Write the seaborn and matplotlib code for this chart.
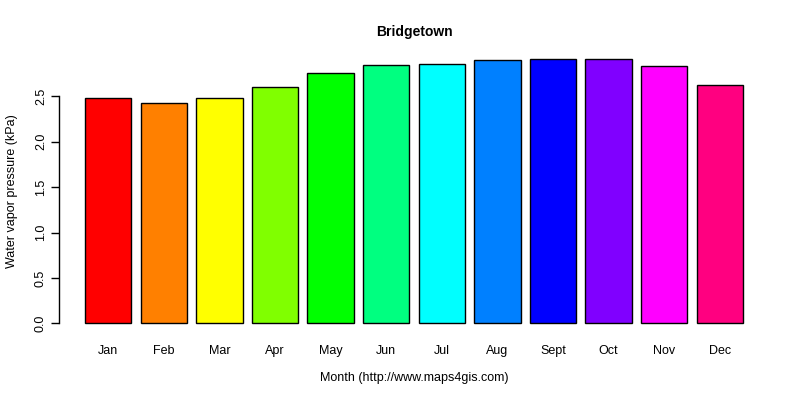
import numpy as np
import pandas as pd
import matplotlib
matplotlib.use("Agg")
import matplotlib.pyplot as plt
import seaborn as sb

months = ["Jan", "Feb", "Mar", "Apr", "May", "Jun", "Jul", "Aug", "Sept", "Oct", "Nov", "Dec"]
vapor = [2.48, 2.43, 2.48, 2.60, 2.76, 2.84, 2.85, 2.90, 2.91, 2.91, 2.83, 2.62]
colors = ["#FF0000", "#FF8000", "#FFFF00", "#80FF00", "#00FF00", "#00FF80",
          "#00FFFF", "#0080FF", "#0000FF", "#8000FF", "#FF00FF", "#FF0080"]

df = pd.DataFrame({"month": months, "vapor": vapor})

sb.set_style("white")
plt.rcParams["font.family"] = ["Liberation Sans", "DejaVu Sans"]
plt.rcParams["text.color"] = "black"
plt.rcParams["axes.labelcolor"] = "black"
plt.rcParams["xtick.color"] = "black"
plt.rcParams["ytick.color"] = "black"

fig = plt.figure(figsize=(8, 4), dpi=100)
ax = fig.add_axes([0.0734, 0.165, 0.8882, 0.714])

sb.barplot(data=df, x="month", y="vapor", hue="month", palette=colors,
           saturation=1, width=1 / 1.2, edgecolor="black", linewidth=1,
           legend=False, ax=ax)

# R style axis ranges (4% padding)
ax.set_xlim(-0.89, 11.89)
ymax = max(vapor)
ax.set_ylim(-0.04 * ymax, ymax * 1.04)

for s in ["top", "right", "bottom"]:
    ax.spines[s].set_visible(False)
ax.spines["left"].set_bounds(0, 2.5)
ax.spines["left"].set_color("black")
ax.spines["left"].set_linewidth(1)

ticks = [0, 0.5, 1.0, 1.5, 2.0, 2.5]
ax.set_yticks(ticks)
ax.set_yticklabels([f"{t:.1f}" for t in ticks], rotation=90, va="center", fontsize=9)
ax.tick_params(axis="y", left=True, length=5.5, width=1, color="black", pad=3)
ax.tick_params(axis="x", bottom=False, length=0, pad=8, labelsize=9)

ax.set_title("Bridgetown", fontsize=10, fontweight="bold", pad=9)
ax.set_xlabel("Month (http://www.maps4gis.com)", fontsize=9, labelpad=11)
ax.set_ylabel("Water vapor pressure (kPa)", fontsize=9, labelpad=12)

fig.savefig("out.png", dpi=100)
